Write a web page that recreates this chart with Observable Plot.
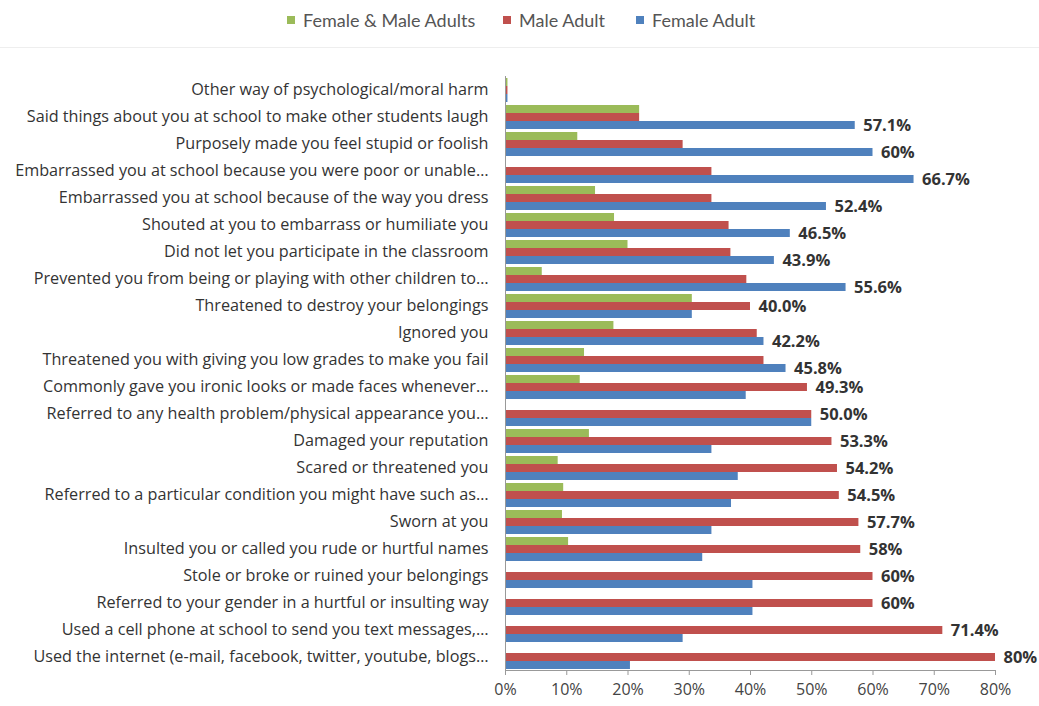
<!DOCTYPE html>
<html>
<head>
<meta charset="utf-8">
<script src="https://cdn.jsdelivr.net/npm/d3@7"></script>
<script src="https://cdn.jsdelivr.net/npm/@observablehq/plot@0.6"></script>
<style>
  body { margin: 0; background: #fff; font-family: Lato, "Open Sans", sans-serif; }
  #legend { height: 47px; border-bottom: 1px solid #eee; position: relative; font-size: 18px; color: #555; }
  .item { position: absolute; top: 9px; display: flex; align-items: center; }
  .sw { width: 8px; height: 8px; margin-right: 8px; }
</style>
</head>
<body>
<div id="legend"></div>
<div id="chart"></div>
<script>
const categories = [
  "Other way of psychological/moral harm",
  "Said things about you at school to make other students laugh",
  "Purposely made you feel stupid or foolish",
  "Embarrassed you at school because you were poor or unable…",
  "Embarrassed you at school because of the way you dress",
  "Shouted at you to embarrass or humiliate you",
  "Did not let you participate in the classroom",
  "Prevented you from being or playing with other children to…",
  "Threatened to destroy your belongings",
  "Ignored you",
  "Threatened you with giving you low grades to make you fail",
  "Commonly gave you ironic looks or made faces whenever…",
  "Referred to any health problem/physical appearance you…",
  "Damaged your reputation",
  "Scared or threatened you",
  "Referred to a particular condition you might have such as…",
  "Sworn at you",
  "Insulted you or called you rude or hurtful names",
  "Stole or broke or ruined your belongings",
  "Referred to your gender in a hurtful or insulting way",
  "Used a cell phone at school to send you text messages,…",
  "Used the internet (e-mail, facebook, twitter, youtube, blogs…"
];
const series = ["Female & Male Adults", "Male Adult", "Female Adult"];
const colors = ["#9bbb59", "#c0504d", "#4f81bd"];
const bothAdults  = [0.4, 21.9, 11.8, 0, 14.7, 17.8, 20.0, 6.0, 30.5, 17.7, 12.9, 12.2, 0, 13.7, 8.6, 9.5, 9.3, 10.3, 0, 0, 0, 0];
const maleAdult   = [0.4, 21.9, 29.0, 33.7, 33.7, 36.5, 36.8, 39.4, 40.0, 41.1, 42.2, 49.3, 50.0, 53.3, 54.2, 54.5, 57.7, 58.0, 60.0, 60.0, 71.4, 80.0];
const femaleAdult = [0.4, 57.1, 60.0, 66.7, 52.4, 46.5, 43.9, 55.6, 30.5, 42.2, 45.8, 39.3, 50.0, 33.7, 38.0, 36.9, 33.7, 32.2, 40.4, 40.4, 29.0, 20.4];
const valueLabels = ["", "57.1%", "60%", "66.7%", "52.4%", "46.5%", "43.9%", "55.6%", "40.0%", "42.2%", "45.8%", "49.3%", "50.0%", "53.3%", "54.2%", "54.5%", "57.7%", "58%", "60%", "60%", "71.4%", "80%"];
const xTicks = [0, 10, 20, 30, 40, 50, 60, 70, 80];

const seriesValues = [bothAdults, maleAdult, femaleAdult];
const rows = [];
categories.forEach((c, i) => series.forEach((s, j) => rows.push({category: c, series: s, value: seriesValues[j][i]})));
const labelRows = categories.map((c, i) => {
  const vals = seriesValues.map(v => v[i]);
  const k = vals.indexOf(Math.max(...vals));
  return {category: c, series: series[k], value: vals[k], label: valueLabels[i]};
});

// legend
const legend = document.getElementById("legend");
const lx = [287, 503, 636];
series.forEach((s, j) => {
  const d = document.createElement("div");
  d.className = "item";
  d.style.left = lx[j] + "px";
  d.innerHTML = `<span class="sw" style="background:${colors[j]}"></span>${s}`;
  legend.appendChild(d);
});

const chart = Plot.plot({
  width: 1039,
  height: 658,
  marginLeft: 505,
  marginRight: 44,
  marginTop: 27,
  marginBottom: 36,
  style: {fontFamily: "'Open Sans', Lato, sans-serif", fontSize: "15px", color: "#333"},
  x: {domain: [0, 80], ticks: xTicks, tickFormat: d => d + "%", label: null},
  y: {domain: series, paddingInner: 0, paddingOuter: 0.15, axis: null},
  fy: {domain: categories, padding: 0, label: null},
  color: {domain: series, range: colors},
  marks: [
    Plot.axisFy({anchor: "left", label: null, tickSize: 0, tickPadding: 17, fontSize: 16.2, fill: "#333"}),
    Plot.axisX({ticks: xTicks, tickFormat: d => d + "%", tickSize: 5, tickPadding: 8, label: null, fontSize: 16, fill: "#444", stroke: "#999"}),
    Plot.barX(rows, {x: "value", y: "series", fy: "category", fill: "series"}),
    Plot.ruleX([0], {stroke: "#999"}),
    Plot.frame({anchor: "bottom", facet: "super", stroke: "#999"}),
    Plot.text(labelRows, {x: "value", y: "series", fy: "category", text: "label", textAnchor: "start", dx: 8, fontWeight: "bold", fontSize: 16.5, fill: "#333"})
  ]
});
document.getElementById("chart").appendChild(chart);
</script>
</body>
</html>
